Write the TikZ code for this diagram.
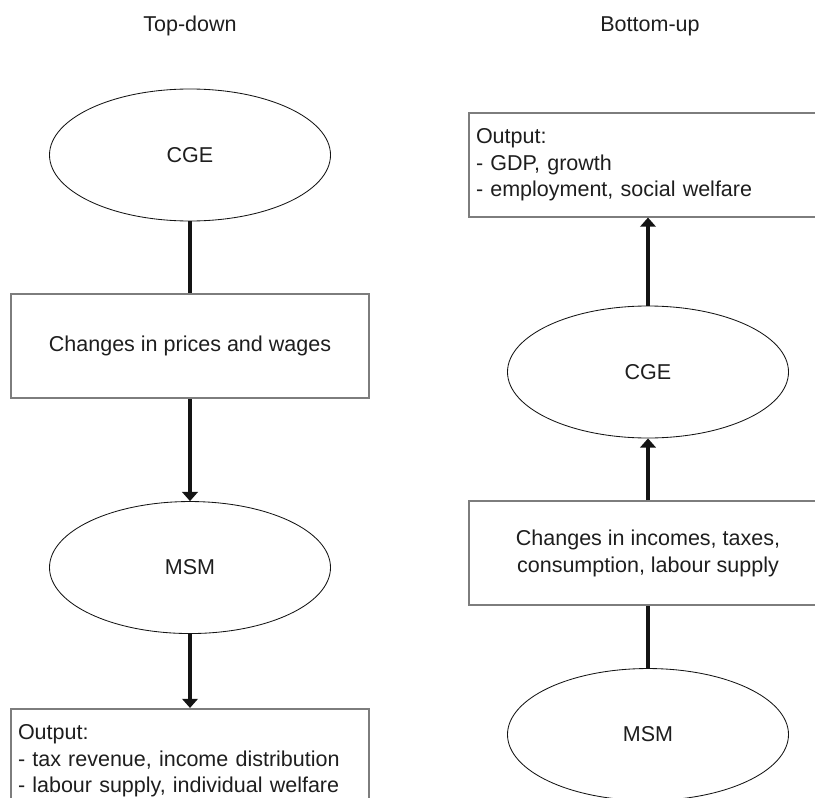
\documentclass[tikz,border=0pt]{standalone}
\usepackage{fontspec}
\setmainfont{Liberation Sans}
\usepackage{xcolor}
\usepackage{tikz}
\usetikzlibrary{shapes.geometric,arrows.meta,positioning}
\definecolor{linecol}{RGB}{20,20,20}
\definecolor{framecol}{RGB}{125,125,125}
\definecolor{textcol}{RGB}{30,30,30}

\begin{document}
\begin{tikzpicture}[
  font=\fontsize{15.3pt}{18.9pt}\selectfont,
  model/.style={ellipse,draw=linecol,line width=0.6pt,minimum width=7.025cm,minimum height=3.3cm,inner sep=0pt,text=textcol},
  change/.style={rectangle,draw=framecol,line width=1.2pt,minimum width=8.95cm,minimum height=2.6cm,align=center,inner sep=0pt,text=textcol},
  result/.style={rectangle,draw=framecol,line width=1.2pt,text width=8.6cm,inner xsep=0.175cm,inner ysep=0pt,minimum height=2.6cm,align=left,text=textcol},
  link/.style={line width=2.6pt,draw=linecol},
  arrow/.style={link,-{Triangle[width=11pt,length=6.5pt]}}
]
\clip (0,0) rectangle (20.375,-19.95);
\node[text=textcol] (td) at (4.75,-0.65) {Top-down};
\node[text=textcol] (bu) at (16.25,-0.65) {Bottom-up};

\node[model] (cge1) at (4.75,-3.875) {CGE};
\node[change, below=1.8cm of cge1] (prices) {Changes in prices and wages};
\node[model, below=2.55cm of prices] (msm1) {MSM};
\node[result, below=1.85cm of msm1] (out1) {Output:\\- tax revenue, income distribution\\- labour supply, individual welfare};
\draw[link] (cge1) -- (prices);
\draw[arrow] (prices) -- (msm1);
\draw[arrow] (msm1) -- (out1);

\node[model] (cge2) at (16.2,-9.3) {CGE};
\node[result, above=2.2cm of cge2] (out2) {Output:\\- GDP, growth\\- employment, social welfare};
\node[change, below=1.55cm of cge2] (incomes) {Changes in incomes, taxes,\\consumption, labour supply};
\node[model, below=1.55cm of incomes] (msm2) {MSM};
\draw[link] (msm2) -- (incomes);
\draw[arrow] (incomes) -- (cge2);
\draw[arrow] (cge2) -- (out2);
\end{tikzpicture}
\end{document}
